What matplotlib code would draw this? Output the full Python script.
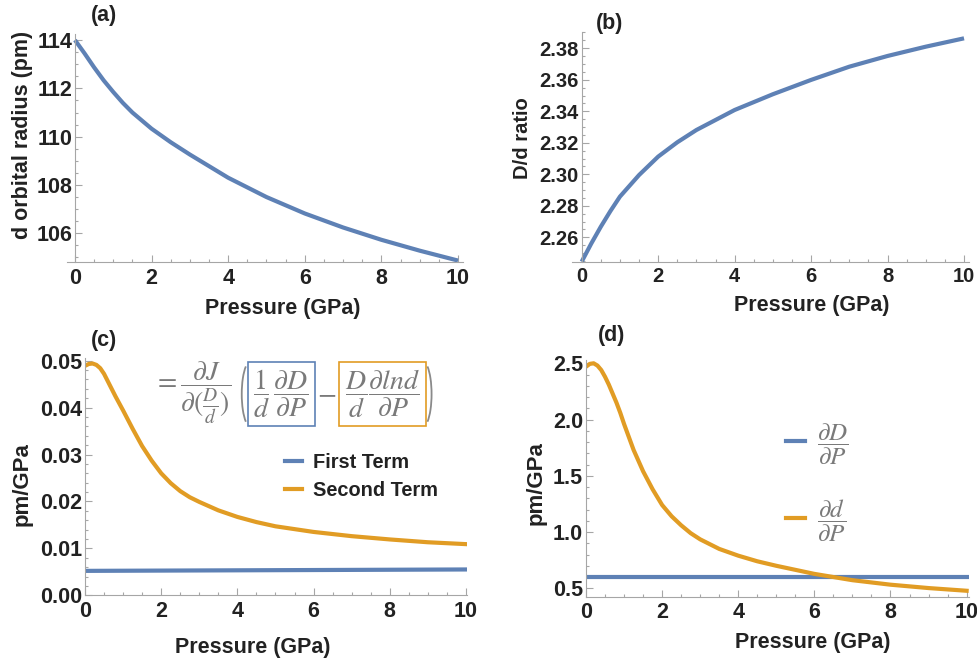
import matplotlib
matplotlib.use('Agg')
import matplotlib.pyplot as plt
from matplotlib.patches import Arc
from matplotlib.transforms import IdentityTransform
from matplotlib.ticker import MultipleLocator, FormatStrFormatter

plt.rcParams['font.family'] = ['Liberation Sans', 'DejaVu Sans']
plt.rcParams['font.weight'] = 'normal'   # keep mathtext upright weight
plt.rcParams['axes.labelweight'] = 'bold'
plt.rcParams['mathtext.fontset'] = 'stix'

BLUE = '#5e81b5'
ORANGE = '#e19c24'
GRAY = '#a6a6a6'
TXT = '#222222'
FORMULA = '#7a7a7a'

# (a) d orbital radius vs pressure
p_a = [0, 0.25, 0.5, 0.75, 1, 1.25, 1.5, 2, 2.5, 3, 4, 5, 6, 7, 8, 9, 10]
radius = [114.0, 113.45, 112.87, 112.33, 111.85, 111.4, 111.0, 110.33,
          109.77, 109.26, 108.3, 107.5, 106.82, 106.24, 105.73, 105.28,
          104.87]

# (b) D/d ratio vs pressure
p_b = [0, 0.25, 0.5, 0.75, 1, 1.5, 2, 2.5, 3, 4, 5, 6, 7, 8, 9, 10]
ratio = [2.2445, 2.2560, 2.2667, 2.2766, 2.2858, 2.2995, 2.3112, 2.3203,
         2.3281, 2.3408, 2.3508, 2.3599, 2.3683, 2.3751, 2.3810, 2.3863]

# (c) first and second term
p_c = [0, 0.1, 0.2, 0.3, 0.4, 0.5, 0.6, 0.7, 0.8, 0.9, 1.0, 1.25, 1.5,
       1.75, 2.0, 2.25, 2.5, 2.75, 3, 3.5, 4, 4.5, 5, 6, 7, 8, 9, 10]
second_term = [0.0489, 0.0493, 0.0494, 0.0491, 0.0484, 0.0472, 0.0456,
               0.0440, 0.0424, 0.0409, 0.0394, 0.0355, 0.0318, 0.0287,
               0.0260, 0.0239, 0.0222, 0.0209, 0.0199, 0.0181, 0.0167,
               0.0156, 0.0147, 0.0135, 0.0126, 0.0119, 0.0113, 0.0109]
p_first = [0, 5, 10]
first_term = [0.0052, 0.00535, 0.0055]

# (d) dD/dP and dd/dP
p_d = [0, 0.1, 0.2, 0.3, 0.4, 0.5, 0.6, 0.7, 0.8, 0.9, 1.0, 1.25, 1.5,
       1.75, 2.0, 2.25, 2.5, 2.75, 3, 3.5, 4, 4.5, 5, 6, 7, 8, 9, 10]
dd_dp = [2.47, 2.495, 2.50, 2.48, 2.44, 2.38, 2.31, 2.23, 2.15, 2.06, 1.96,
         1.73, 1.54, 1.38, 1.24, 1.14, 1.06, 0.99, 0.935, 0.85, 0.79, 0.74,
         0.70, 0.628, 0.572, 0.532, 0.502, 0.478]
p_big_d = [0, 10]
dD_dp = [0.597, 0.597]


def style_axes(ax, xminor, ymajor, yminor, tick_size=15.5):
    for s in ('top', 'right'):
        ax.spines[s].set_visible(False)
    for s in ('left', 'bottom'):
        ax.spines[s].set_color(GRAY)
        ax.spines[s].set_linewidth(0.8)
    ax.xaxis.set_major_locator(MultipleLocator(2))
    ax.xaxis.set_minor_locator(MultipleLocator(xminor))
    ax.yaxis.set_major_locator(MultipleLocator(ymajor))
    ax.yaxis.set_minor_locator(MultipleLocator(yminor))
    ax.tick_params(which='both', direction='in', color=GRAY, width=0.8,
                   labelcolor=TXT)
    ax.tick_params(which='major', length=5, labelsize=tick_size)
    ax.tick_params(which='minor', length=2.5)
    ax.tick_params(axis='y', pad=2)
    ax.tick_params(axis='x', pad=4)


def bold_ticks(ax):
    for lab in ax.get_xticklabels() + ax.get_yticklabels():
        lab.set_fontweight('bold')


fig = plt.figure(figsize=(9.78, 6.62), dpi=100)

# ---- (a)
ax = fig.add_axes([0.0688, 0.6042, 0.4042, 0.3444])
ax.plot(p_a, radius, color=BLUE, lw=3, solid_capstyle='butt')
ax.set_xlim(-0.2, 10.12)
ax.set_ylim(104.81, 114.25)
ax.spines['left'].set_position(('data', 0))
style_axes(ax, 0.5, 2, 0.5)
bold_ticks(ax)
ax.set_xlabel('Pressure (GPa)', fontsize=15.5, color=TXT)
ax.set_ylabel('d orbital radius (pm)', fontsize=15.5, color=TXT)
ax.xaxis.set_label_coords(0.546, -0.16)
ax.yaxis.set_label_coords(-0.087, 0.557)
fig.text(104 / 978, 1 - 16 / 662, '(a)', fontsize=15.5, color=TXT,
         fontweight='bold', ha='center', va='center')

# ---- (b)
ax = fig.add_axes([0.585, 0.6047, 0.4058, 0.3474])
ax.plot(p_b, ratio, color=BLUE, lw=3, solid_capstyle='butt')
ax.set_xlim(-0.25, 10.13)
ax.set_ylim(2.2445, 2.3905)
ax.spines['left'].set_position(('data', 0))
style_axes(ax, 0.5, 0.02, 0.005, tick_size=14.5)
ax.yaxis.set_major_formatter(FormatStrFormatter('%.2f'))
bold_ticks(ax)
ax.set_xlabel('Pressure (GPa)', fontsize=15.5, color=TXT)
ax.set_ylabel('D/d ratio', fontsize=14.5, color=TXT)
ax.xaxis.set_label_coords(0.603, -0.145)
ax.yaxis.set_label_coords(-0.100, 0.5365)
fig.text(610 / 978, 1 - 24 / 662, '(b)', fontsize=15.5, color=TXT,
         fontweight='bold', ha='center', va='center')

# ---- (c)
ax = fig.add_axes([0.0869, 0.1008, 0.3907, 0.3579])
ax.plot(p_first, first_term, color=BLUE, lw=3, label='First Term')
ax.plot(p_c, second_term, color=ORANGE, lw=3, label='Second Term')
ax.set_xlim(0, 10.03)
ax.set_ylim(0, 0.0505)
style_axes(ax, 0.5, 0.01, 0.002)
ax.yaxis.set_major_formatter(FormatStrFormatter('%.2f'))
bold_ticks(ax)
ax.set_xlabel('Pressure (GPa)', fontsize=15.5, color=TXT)
ax.set_ylabel('pm/GPa', fontsize=16, color=TXT)
ax.xaxis.set_label_coords(0.44, -0.175)
ax.yaxis.set_label_coords(-0.137, 0.4686)
leg = ax.legend(loc='upper left', bbox_to_anchor=(0.5236, 0.602),
                frameon=False, prop={'size': 14.4, 'weight': 'bold'},
                handlelength=0.85, handletextpad=0.55, labelspacing=0.45,
                borderpad=0, borderaxespad=0)
for t in leg.get_texts():
    t.set_color(TXT)
fig.text(104 / 978, 1 - 340 / 662, '(c)', fontsize=15.5, color=TXT,
         fontweight='bold', ha='center', va='center')

# formula with boxed terms
fs = 20
t1 = ax.text(0.178, 0.855, r'$=\dfrac{\partial J}{\partial(\frac{D}{d})}$',
             transform=ax.transAxes, fontsize=fs, color=FORMULA,
             ha='left', va='center')
t3 = ax.annotate(r'$\dfrac{1}{d}\,\dfrac{\partial D}{\partial P}$',
                 xy=(1, 0.5), xycoords=t1, xytext=(16, -1),
                 textcoords='offset points', fontsize=fs, color=FORMULA,
                 ha='left', va='center',
                 bbox=dict(boxstyle='square,pad=0.2', fc='none', ec=BLUE,
                           lw=1.2))
t4 = ax.annotate(r'$-$', xy=(1, 0.5), xycoords=t3, xytext=(6, 0),
                 textcoords='offset points', fontsize=fs, color=FORMULA,
                 ha='left', va='center')
t5 = ax.annotate(r'$\dfrac{D}{d}\dfrac{\partial lnd}{\partial P}$',
                 xy=(1, 0.5), xycoords=t4, xytext=(6, 0),
                 textcoords='offset points', fontsize=fs, color=FORMULA,
                 ha='left', va='center',
                 bbox=dict(boxstyle='square,pad=0.2', fc='none', ec=ORANGE,
                           lw=1.2))

# thin parentheses around the two boxed terms
fig.canvas.draw()
rend = fig.canvas.get_renderer()
bb1 = t3.get_bbox_patch().get_window_extent(rend)
bb2 = t5.get_bbox_patch().get_window_extent(rend)
ymid = (bb1.y0 + bb1.y1 + bb2.y0 + bb2.y1) / 4
ph = max(bb1.height, bb2.height) + 2
fig.add_artist(Arc((bb1.x0 + 3, ymid), 18, ph, theta1=100, theta2=260,
                   color='#8a8a8a', lw=1.3, transform=IdentityTransform()))
fig.add_artist(Arc((bb2.x1 - 3, ymid), 18, ph, theta1=-80, theta2=80,
                   color='#8a8a8a', lw=1.3, transform=IdentityTransform()))

# ---- (d)
ax = fig.add_axes([0.5992, 0.0986, 0.3911, 0.3577])
ax.plot(p_big_d, dD_dp, color=BLUE, lw=3,
        label=r'$\dfrac{\partial D}{\partial P}$')
ax.plot(p_d, dd_dp, color=ORANGE, lw=3,
        label=r'$\dfrac{\partial d}{\partial P}$')
ax.set_xlim(0, 10.05)
ax.set_ylim(0.425, 2.53)
style_axes(ax, 0.5, 0.5, 0.1)
ax.yaxis.set_major_formatter(FormatStrFormatter('%.1f'))
bold_ticks(ax)
ax.set_xlabel('Pressure (GPa)', fontsize=15.5, color=TXT)
ax.set_ylabel('pm/GPa', fontsize=16, color=TXT)
ax.xaxis.set_label_coords(0.592, -0.15)
ax.yaxis.set_label_coords(-0.102, 0.481)
leg = ax.legend(loc='upper left', bbox_to_anchor=(0.523, 0.74),
                frameon=False, prop={'size': 18},
                handlelength=0.75, handletextpad=0.5, labelspacing=1.2,
                borderpad=0, borderaxespad=0)
for t in leg.get_texts():
    t.set_color(FORMULA)
fig.text(612 / 978, 1 - 336 / 662, '(d)', fontsize=15.5, color=TXT,
         fontweight='bold', ha='center', va='center')

fig.savefig('out.png', dpi=100, facecolor='white')
